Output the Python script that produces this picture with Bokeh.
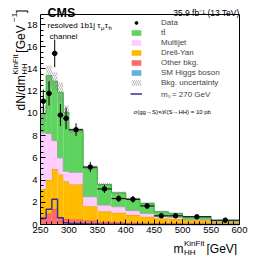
import numpy as np
from math import pi
from bokeh.plotting import figure
from bokeh.models import Label, Legend, LegendItem, Range1d, FixedTicker, LinearAxis
from bokeh.embed import file_html
from bokeh.resources import INLINE

# ---------------- data ----------------
edges = [250, 260, 270, 280, 290, 300, 325, 350, 375, 400, 425, 450, 475, 500, 550, 600]
smh = [0.05, 0.06, 0.06, 0.05, 0.05, 0.04, 0.04, 0.03, 0.03, 0.02, 0.02, 0.02, 0.01, 0.01, 0.01]
other = [0.65, 0.94, 1.34, 0.60, 0.45, 0.41, 0.31, 0.22, 0.17, 0.13, 0.10, 0.08, 0.07, 0.05, 0.03]
drell_yan = [2.50, 3.00, 3.60, 3.85, 3.40, 3.15, 1.30, 0.95, 0.85, 0.70, 0.58, 0.45, 0.42, 0.32, 0.16]
multijet = [5.05, 4.20, 2.55, 1.50, 0.90, 1.10, 0.85, 0.55, 0.55, 0.40, 0.30, 0.15, 0.15, 0.07, 0.05]
ttbar = [1.75, 5.20, 5.35, 5.90, 5.30, 3.75, 2.60, 1.85, 1.25, 1.05, 0.90, 0.45, 0.35, 0.27, 0.11]
bkg_unc = [0.70, 0.90, 0.80, 0.90, 0.60, 0.25, 0.20, 0.15, 0.12, 0.10, 0.10, 0.08, 0.07, 0.05, 0.04]
signal = [0.55, 1.37, 2.27, 0.60, 0.15, 0.08, 0.05, 0.03, 0.02, 0.01, 0.01, 0.0, 0.0, 0.0, 0.0]
data = [11.1, 11.8, 15.4, 9.85, 9.55, 8.53, 5.17, 3.20, 2.33, 2.27, 1.67, 0.78, 0.78, 0.69, 0.39]
data_err = [1.05, 1.09, 1.24, 0.99, 0.98, 0.58, 0.45, 0.36, 0.31, 0.30, 0.26, 0.18, 0.18, 0.12, 0.09]
x_ticks = [250, 300, 350, 400, 450, 500, 550, 600]
y_ticks = [0, 2, 4, 6, 8, 10, 12, 14, 16, 18]
X_LO, X_HI = 250, 600
Y_LO, Y_HI = 0, 18.9

FONT = "Liberation Sans"
W, H = 266, 255
# plot-box placement on the canvas (pixels)
BOX_L, BOX_R, BOX_T, BOX_B = 40, 239, 14, 224

left = np.array(edges[:-1], dtype=float)
right = np.array(edges[1:], dtype=float)
centers = (left + right) / 2

sx = (BOX_R - BOX_L) / (X_HI - X_LO)
sy = (BOX_B - BOX_T) / (Y_HI - Y_LO)
x_range = Range1d(X_LO - BOX_L / sx, X_HI + (W - BOX_R) / sx)
y_range = Range1d(Y_LO - (H - BOX_B) / sy, Y_HI + BOX_T / sy)

p = figure(width=W, height=H, output_backend="svg", toolbar_location=None, title=None,
           x_range=x_range, y_range=y_range,
           min_border_left=0, min_border_right=0, min_border_top=0, min_border_bottom=0)
p.background_fill_color = "white"
p.border_fill_color = "white"
p.outline_line_color = None
p.xgrid.visible = False
p.ygrid.visible = False

# stacked histograms
components = [
    ("SM Higgs boson", smh, "#62b0e0", "#3a7fb0"),
    ("Other bkg.", other, "#ff6b6b", "#e05050"),
    ("Drell-Yan", drell_yan, "#ffbb00", "#e89a00"),
    ("Multijet", multijet, "#ffccff", "#cc88cc"),
    ("tt\u0304", ttbar, "#5fd35f", "#3aa83a"),
]
bottom = np.zeros(len(left))
rend = {}
for name, vals, fc, lc in components:
    top = bottom + np.array(vals)
    r = p.quad(left=left, right=right, bottom=bottom, top=top,
               fill_color=fc, line_color=None)
    p.step(x=list(edges), y=list(top) + [top[-1]], mode="after", line_color=lc, line_width=1)
    rend[name] = r
    bottom = top
total = bottom

# uncertainty band
unc = np.array(bkg_unc)
r_unc = p.quad(left=left, right=right, bottom=total - unc, top=total + unc,
               fill_alpha=0, line_color=None, hatch_pattern="\\",
               hatch_color="#888888", hatch_scale=4, hatch_weight=0.7, hatch_alpha=0.9)

# signal
r_sig = p.step(x=list(edges), y=list(signal) + [signal[-1]], mode="after",
               line_color="#33338f", line_width=1.5)

# data
d = np.array(data)
de = np.array(data_err)
p.segment(x0=centers, y0=d - de, x1=centers, y1=d + de, line_color="black", line_width=1)
p.segment(x0=left, y0=d, x1=right, y1=d, line_color="black", line_width=1)
r_data = p.scatter(centers, d, size=4.5, marker="circle", fill_color="black", line_color="black")

# axes drawn at the plot-box edges
xa = p.xaxis[0]
ya = p.yaxis[0]
xa.fixed_location = Y_LO
xa.bounds = (X_LO, X_HI)
ya.fixed_location = X_LO
ya.bounds = (Y_LO, Y_HI)
for ax in (xa, ya):
    ax.axis_line_color = "black"
    ax.major_tick_in = 5
    ax.major_tick_out = 0
    ax.minor_tick_in = 3
    ax.minor_tick_out = 0
    ax.major_tick_line_color = "black"
    ax.minor_tick_line_color = "black"
    ax.major_label_text_font = FONT
    ax.major_label_text_font_size = "9.5px"
    ax.major_label_text_color = "black"
xa.ticker = FixedTicker(ticks=x_ticks, minor_ticks=list(range(250, 601, 10)))
ya.ticker = FixedTicker(ticks=y_ticks, minor_ticks=[i * 0.5 for i in range(0, 38)])
xa.major_label_standoff = 2
ya.major_label_standoff = 3

top_ax = LinearAxis(fixed_location=Y_HI, bounds=(X_LO, X_HI), ticker=FixedTicker(ticks=[]),
                    major_tick_in=0, major_tick_out=0, minor_tick_in=0, minor_tick_out=0,
                    axis_line_color="black")
right_ax = LinearAxis(fixed_location=X_HI, bounds=(Y_LO, Y_HI), ticker=FixedTicker(ticks=[]),
                      major_tick_in=0, major_tick_out=0, minor_tick_in=0, minor_tick_out=0,
                      axis_line_color="black")
p.add_layout(top_ax, "above")
p.add_layout(right_ax, "right")

# legend
items = [
    LegendItem(label="Data", renderers=[r_data]),
    LegendItem(label="tt\u0304", renderers=[rend["tt\u0304"]]),
    LegendItem(label="Multijet", renderers=[rend["Multijet"]]),
    LegendItem(label="Drell-Yan", renderers=[rend["Drell-Yan"]]),
    LegendItem(label="Other bkg.", renderers=[rend["Other bkg."]]),
    LegendItem(label="SM Higgs boson", renderers=[rend["SM Higgs boson"]]),
    LegendItem(label="Bkg. uncertainty", renderers=[r_unc]),
    LegendItem(label="m\u209b = 270 GeV", renderers=[r_sig]),
]
leg = Legend(items=items, location=(130, 156), label_text_font=FONT, label_text_font_size="8px",
             glyph_width=12, glyph_height=7, label_height=7, spacing=1, padding=0, margin=0,
             label_standoff=19, border_line_color=None, background_fill_alpha=0)
p.add_layout(leg)


def txt(x, y, s, size, bold=False, align="left", angle=0.0):
    # x, y: canvas pixels measured from the top-left corner
    p.add_layout(Label(x=x, y=H - y, x_units="screen", y_units="screen", text=s,
                       text_font=FONT, text_font_size=f"{size}px",
                       text_font_style="bold" if bold else "normal",
                       text_align=align, text_baseline="alphabetic", angle=angle,
                       text_color="black"))


txt(133, 111, "\u03c3(gg\u2192S)\u00d7\u212c(S\u2192HH) = 10 pb", 6)

# header
txt(47, 12, "CMS", 12.5, bold=True)
txt(239, 12, "35.9 fb\u207b\u00b9 (13 TeV)", 8.5, align="right")

# channel label
x0 = 47
txt(x0, 25, "resolved 1b1j \u03c4", 8)
w = 6.68 * 8
txt(x0 + w, 27.5, "\u03bc", 6)
txt(x0 + w + 3.8, 25, "\u03c4", 8)
txt(x0 + w + 7.6, 27.5, "h", 6)
txt(49, 36, "channel", 8)

# x-axis title
xs = 173
txt(xs, 248.5, "m", 12)
txt(xs + 10.5, 251.5, "HH", 8)
txt(xs + 10.5, 242.5, "KinFit", 8)
txt(xs + 10.5 + 22.5, 248.5, " [GeV]", 12)

# y-axis title (rotated, reads bottom to top)
ys = 110
bx = 20
txt(bx, ys, "dN/dm", 12, angle=pi / 2)
txt(bx + 3.5, ys - 35.8, "HH", 8, angle=pi / 2)
txt(bx - 5.5, ys - 35.8, "KinFit", 8, angle=pi / 2)
txt(bx, ys - 35.8 - 22.0, " [GeV", 12, angle=pi / 2)
txt(bx - 6, ys - 35.8 - 22.0 - 30.7, "\u22121", 8, angle=pi / 2)
txt(bx, ys - 35.8 - 22.0 - 30.7 - 9.1, "]", 12, angle=pi / 2)

open("out.html", "w").write(file_html(p, INLINE))
